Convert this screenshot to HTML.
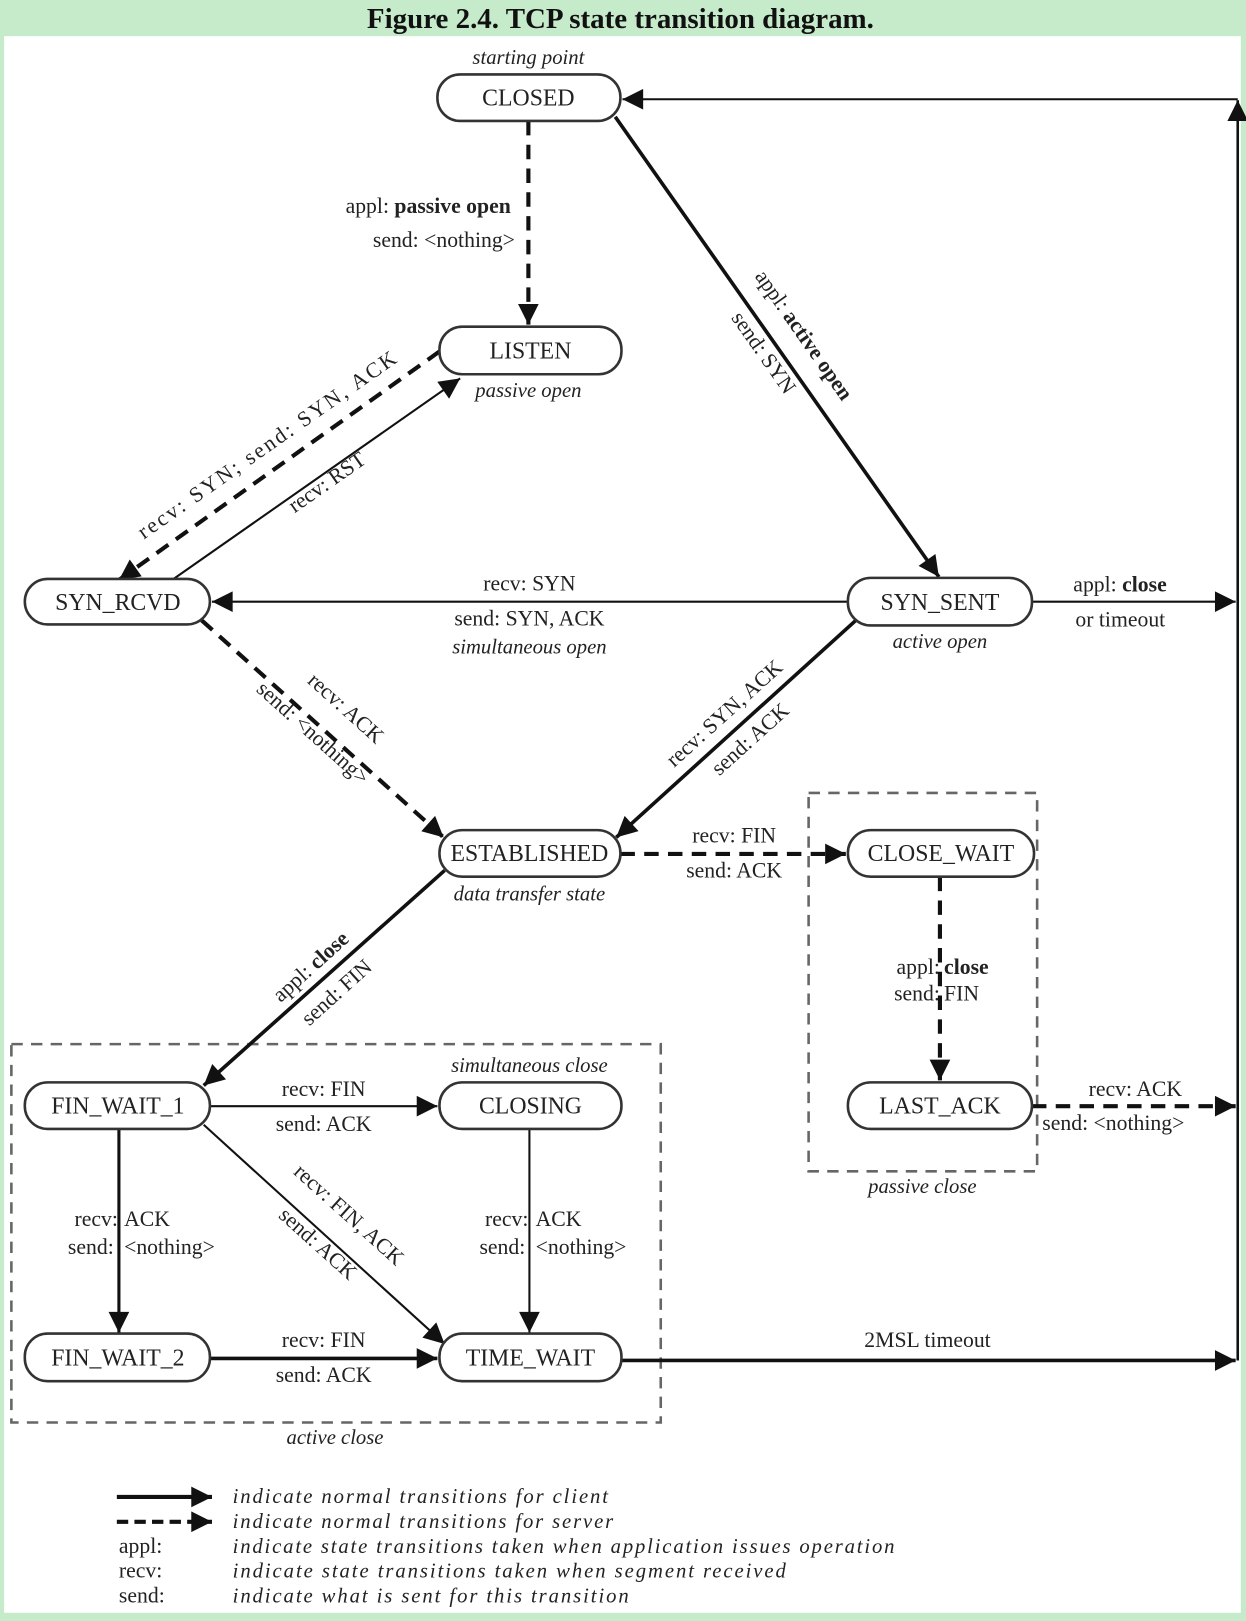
<!DOCTYPE html>
<html><head><meta charset="utf-8"><style>
html,body{margin:0;padding:0;background:#c6ebcb;}
svg{display:block}
text{font-family:"Liberation Serif",serif;fill:#222;}
.n{font-size:23px;text-anchor:middle;}
.l{font-size:21px;}
.i{font-size:20px;font-style:italic;}
</style></head><body>
<svg width="1246" height="1621" viewBox="0 0 1205 1568" preserveAspectRatio="none" xmlns="http://www.w3.org/2000/svg">
<defs>
<marker id="b" viewBox="0 0 10 10" refX="10" refY="5" markerWidth="24" markerHeight="20" markerUnits="userSpaceOnUse" orient="auto"><path d="M0,0L10,5L0,10z" fill="#111"/></marker>
</defs>
<rect x="0" y="0" width="1205" height="1568" fill="#c6ebcb"/>
<rect x="4" y="35" width="1196" height="1525" fill="#fff"/>
<text x="600" y="27" style="font-size:28px;font-weight:bold;text-anchor:middle;fill:#111">Figure 2.4. TCP state transition diagram.</text>

<g fill="none" stroke="#666" stroke-width="2.5" stroke-dasharray="11,8">
<rect x="782" y="767" width="221" height="366"/>
<rect x="11" y="1010" width="628" height="366"/>
</g>

<g fill="none" stroke="#111" marker-end="url(#b)">
<line x1="511" y1="117" x2="511" y2="314" stroke-width="4" stroke-dasharray="14,9"/>
<line x1="595" y1="113" x2="908" y2="558" stroke-width="3.5"/>
<line x1="425" y1="340" x2="115" y2="561" stroke-width="4" stroke-dasharray="14,9"/>
<line x1="165" y1="562" x2="445" y2="366" stroke-width="2"/>
<line x1="820" y1="582" x2="205" y2="582" stroke-width="2"/>
<line x1="998" y1="582" x2="1195" y2="582" stroke-width="2"/>
<line x1="195" y1="600" x2="429" y2="810" stroke-width="4" stroke-dasharray="14,9"/>
<line x1="830" y1="598" x2="596" y2="810" stroke-width="3.5"/>
<line x1="600" y1="826" x2="818" y2="826" stroke-width="4" stroke-dasharray="14,9"/>
<line x1="909" y1="848" x2="909" y2="1045" stroke-width="4" stroke-dasharray="14,9"/>
<line x1="998" y1="1070" x2="1195" y2="1070" stroke-width="4" stroke-dasharray="14,9"/>
<line x1="430" y1="842" x2="197" y2="1050" stroke-width="3.5"/>
<line x1="203" y1="1070" x2="423" y2="1070" stroke-width="2"/>
<line x1="115" y1="1092" x2="115" y2="1289" stroke-width="3"/>
<line x1="512" y1="1092" x2="512" y2="1289" stroke-width="2"/>
<line x1="197" y1="1088" x2="430" y2="1300" stroke-width="2"/>
<line x1="203" y1="1314" x2="423" y2="1314" stroke-width="3.5"/>
<line x1="601" y1="1316" x2="1195" y2="1316" stroke-width="3.5"/>
<line x1="1197" y1="1316" x2="1197" y2="97" stroke-width="2.5"/>
<line x1="1197" y1="96" x2="602" y2="96" stroke-width="2"/>
</g>

<g fill="#fff" stroke="#333" stroke-width="2.5">
<rect x="423" y="72" width="177" height="45" rx="22"/>
<rect x="425" y="316" width="176" height="46" rx="22"/>
<rect x="24" y="560" width="179" height="44" rx="22"/>
<rect x="820" y="559" width="178" height="46" rx="22"/>
<rect x="425" y="803" width="175" height="45" rx="22"/>
<rect x="820" y="803" width="180" height="45" rx="22"/>
<rect x="24" y="1047" width="179" height="45" rx="22"/>
<rect x="425" y="1047" width="176" height="45" rx="22"/>
<rect x="820" y="1047" width="178" height="45" rx="22"/>
<rect x="24" y="1290" width="179" height="46" rx="22"/>
<rect x="425" y="1290" width="176" height="46" rx="22"/>
</g>
<text class="n" x="511" y="102">CLOSED</text>
<text class="n" x="513" y="347">LISTEN</text>
<text class="n" x="114" y="590">SYN_RCVD</text>
<text class="n" x="909" y="590">SYN_SENT</text>
<text class="n" x="512" y="833">ESTABLISHED</text>
<text class="n" x="910" y="833">CLOSE_WAIT</text>
<text class="n" x="114" y="1077">FIN_WAIT_1</text>
<text class="n" x="513" y="1077">CLOSING</text>
<text class="n" x="909" y="1077">LAST_ACK</text>
<text class="n" x="114" y="1321">FIN_WAIT_2</text>
<text class="n" x="513" y="1321">TIME_WAIT</text>

<text class="i" x="511" y="62" text-anchor="middle">starting point</text>
<text class="i" x="511" y="384" text-anchor="middle">passive open</text>
<text class="i" x="512" y="632" text-anchor="middle">simultaneous open</text>
<text class="i" x="909" y="627" text-anchor="middle">active open</text>
<text class="i" x="512" y="871" text-anchor="middle">data transfer state</text>
<text class="i" x="512" y="1037" text-anchor="middle">simultaneous close</text>
<text class="i" x="892" y="1154" text-anchor="middle">passive close</text>
<text class="i" x="324" y="1397" text-anchor="middle">active close</text>

<text class="l" x="494" y="206" text-anchor="end">appl: <tspan font-weight="bold">passive open</tspan></text>
<text class="l" x="498" y="239" text-anchor="end">send: &lt;nothing&gt;</text>
<text class="l" text-anchor="middle" transform="translate(772,328) rotate(55)">appl: <tspan font-weight="bold">active open</tspan></text>
<text class="l" text-anchor="middle" transform="translate(733,345) rotate(55)">send: SYN</text>
<text class="l" text-anchor="middle" transform="translate(262,436) rotate(-35)" textLength="300">recv: SYN;   send: SYN, ACK</text>
<text class="l" text-anchor="middle" transform="translate(320,472) rotate(-35)">recv: RST</text>
<text class="l" x="512" y="571" text-anchor="middle">recv: SYN</text>
<text class="l" x="512" y="605" text-anchor="middle">send: SYN, ACK</text>
<text class="l" x="1038" y="572">appl: <tspan font-weight="bold">close</tspan></text>
<text class="l" x="1040" y="606">or timeout</text>
<text class="l" text-anchor="middle" transform="translate(330,690) rotate(42)">recv: ACK</text>
<text class="l" text-anchor="middle" transform="translate(298,714) rotate(42)">send: &lt;nothing&gt;</text>
<text class="l" text-anchor="middle" transform="translate(705,695) rotate(-42)">recv: SYN, ACK</text>
<text class="l" text-anchor="middle" transform="translate(730,720) rotate(-42)">send: ACK</text>
<text class="l" x="710" y="815" text-anchor="middle">recv: FIN</text>
<text class="l" x="710" y="849" text-anchor="middle">send: ACK</text>
<text class="l" x="909" y="942" text-anchor="end">appl:</text>
<text class="l" x="913" y="942" font-weight="bold">close</text>
<text class="l" x="909" y="968" text-anchor="end">send:</text>
<text class="l" x="913" y="968">FIN</text>
<text class="l" text-anchor="middle" transform="translate(305,940) rotate(-42)">appl: <tspan font-weight="bold">close</tspan></text>
<text class="l" text-anchor="middle" transform="translate(330,965) rotate(-42)">send: FIN</text>
<text class="l" x="313" y="1060" text-anchor="middle">recv: FIN</text>
<text class="l" x="313" y="1094" text-anchor="middle">send: ACK</text>
<text class="l" x="1098" y="1060" text-anchor="middle">recv: ACK</text>
<text class="l" x="1008" y="1093">send: &lt;nothing&gt;</text>
<text class="l" x="114" y="1186" text-anchor="end">recv:</text>
<text class="l" x="120" y="1186">ACK</text>
<text class="l" x="110" y="1213" text-anchor="end">send:</text>
<text class="l" x="120" y="1213">&lt;nothing&gt;</text>
<text class="l" x="511" y="1186" text-anchor="end">recv:</text>
<text class="l" x="518" y="1186">ACK</text>
<text class="l" x="508" y="1213" text-anchor="end">send:</text>
<text class="l" x="518" y="1213">&lt;nothing&gt;</text>
<text class="l" text-anchor="middle" transform="translate(333,1180) rotate(42)">recv: FIN, ACK</text>
<text class="l" text-anchor="middle" transform="translate(303,1208) rotate(42)">send: ACK</text>
<text class="l" x="313" y="1303" text-anchor="middle">recv: FIN</text>
<text class="l" x="313" y="1337" text-anchor="middle">send: ACK</text>
<text class="l" x="897" y="1303" text-anchor="middle">2MSL timeout</text>

<g fill="none" stroke="#111" stroke-width="4" marker-end="url(#b)">
<line x1="113" y1="1448" x2="205" y2="1448"/>
<line x1="113" y1="1472" x2="205" y2="1472" stroke-dasharray="11,6"/>
</g>
<text class="i" x="225" y="1454" textLength="363">indicate normal transitions for client</text>
<text class="i" x="225" y="1478" textLength="368">indicate normal transitions for server</text>
<text class="i" x="225" y="1502" textLength="640">indicate state transitions taken when application issues operation</text>
<text class="i" x="225" y="1526" textLength="535">indicate state transitions taken when segment received</text>
<text class="i" x="225" y="1550" textLength="383">indicate what is sent for this transition</text>
<text class="l" x="115" y="1502">appl:</text>
<text class="l" x="115" y="1526">recv:</text>
<text class="l" x="115" y="1550">send:</text>
</svg>
</body></html>
